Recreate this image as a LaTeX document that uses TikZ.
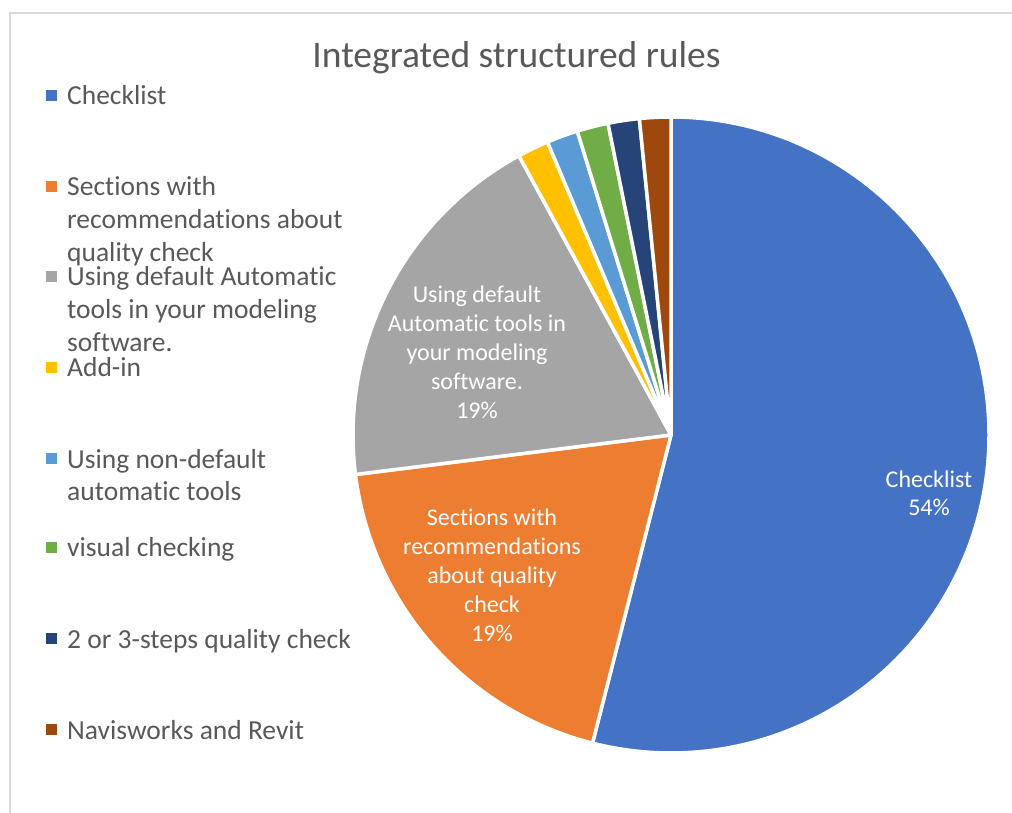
\documentclass[tikz,border=0pt]{standalone}
\usepackage{fontspec}
\setmainfont{Carlito}[Ligatures=NoCommon]

\definecolor{chkblue}{HTML}{4472C4}
\definecolor{secorange}{HTML}{ED7D31}
\definecolor{autogray}{HTML}{A5A5A5}
\definecolor{addgold}{HTML}{FFC000}
\definecolor{nonblue}{HTML}{5B9BD5}
\definecolor{visgreen}{HTML}{70AD47}
\definecolor{stepnavy}{HTML}{264478}
\definecolor{navbrown}{HTML}{9E480E}
\definecolor{labgray}{HTML}{595959}
\definecolor{framegray}{HTML}{D9D9D9}

\begin{document}
\begin{tikzpicture}[x=1pt, y=1pt,
  legtext/.style={anchor=base west, align=left, inner sep=0pt, text=labgray,
    font=\fontsize{27.5}{33}\selectfont},
  pielab/.style={anchor=base, align=center, inner sep=0pt, text=white,
    font=\fontsize{24}{29}\selectfont},
  slice/.style={draw=white, line width=3.5pt, line join=round}]

\useasboundingbox[fill=white] (0,0) rectangle (1012,812);
\draw[framegray, line width=2pt] (1014,799) -- (9.5,799) -- (9.5,-2);

\node[anchor=base, inner sep=0pt, text=labgray, font=\fontsize{37.5}{45}\selectfont]
  (title) at (516.5,744) {Integrated structured rules};

% pie: 34/12/12/1/1/1/1/1 out of 63, clockwise from the top
\coordinate (ctr) at (671,377);
\foreach \a/\b/\c in {90/-104.29/chkblue, -104.29/-172.86/secorange,
    -172.86/-241.43/autogray, -241.43/-247.14/addgold, -247.14/-252.86/nonblue,
    -252.86/-258.57/visgreen, -258.57/-264.29/stepnavy, -264.29/-270/navbrown}
  \filldraw[slice, fill=\c] (ctr) -- ++(\a:318) arc[start angle=\a, end angle=\b, radius=318] -- cycle;

% base of a wrapped label is its last line
\node[pielab] (pchk) at (929,296) {Checklist\\54\%};
\node[pielab] (psec) at (492,171) {Sections with\\recommendations\\about quality\\check\\19\%};
\node[pielab] (paut) at (477,393.5) {Using default\\Automatic tools in\\your modeling\\software.\\19\%};

% legend
\node[legtext] (lchk) at (67,707) {Checklist};
\node[legtext] (lsec) at (67,550) {Sections with\\recommendations about\\quality check};
\node[legtext] (laut) at (67,460) {Using default Automatic\\tools in your modeling\\software.};
\node[legtext] (ladd) at (67,435) {Add-in};
\node[legtext] (lnon) at (67,311) {Using non-default\\automatic tools};
\node[legtext] (lvis) at (67,255) {visual checking};
\node[legtext] (lstp) at (67,164) {2 or 3-steps quality check};
\node[legtext] (lnav) at (67,73) {Navisworks and Revit};

% keys sit on the first line of each entry
\foreach \y/\c in {707/chkblue, 616/secorange, 526/autogray, 435/addgold,
    344/nonblue, 255/visgreen, 164/stepnavy, 73/navbrown}
  \fill[\c] (46,\y+4) rectangle ++(11,11);

\end{tikzpicture}
\end{document}
